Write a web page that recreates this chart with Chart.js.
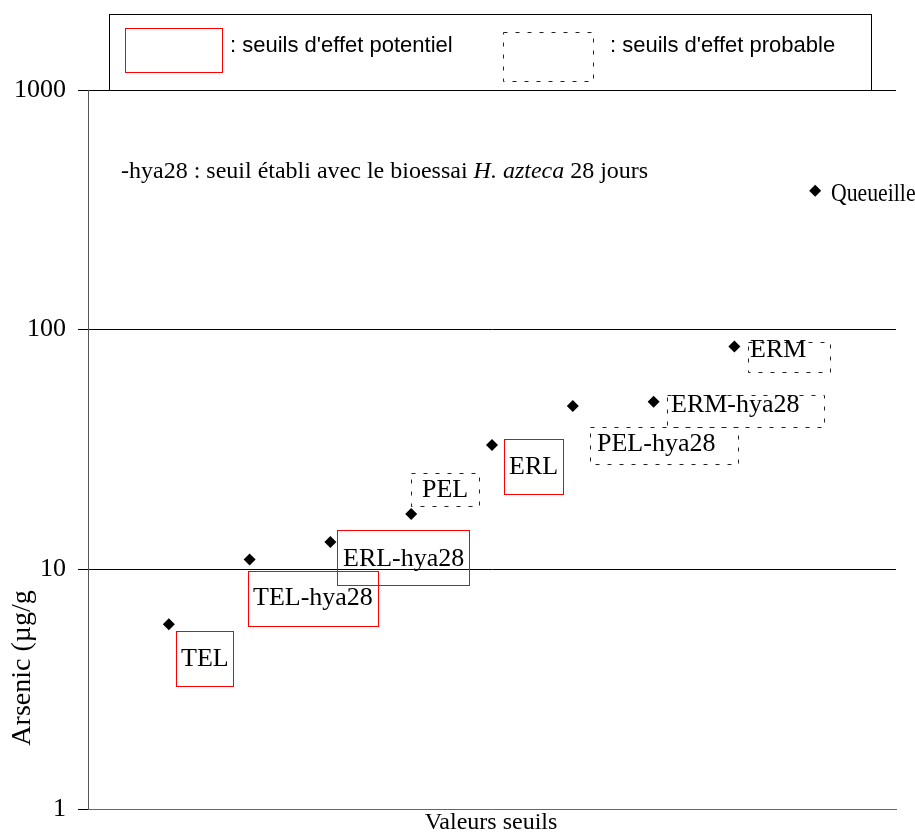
<!DOCTYPE html>
<html>
<head>
<meta charset="utf-8">
<script src="https://cdn.jsdelivr.net/npm/chart.js@4/dist/chart.umd.min.js"></script>
<style>
  body { margin: 0; background: #fff; }
  canvas { display: block; }
</style>
</head>
<body>
<canvas id="chart" width="915" height="832"></canvas>
<script>
// valeurs seuils pour l'arsenic (µg/g)
const seuils = ['TEL', 'TEL-hya28', 'ERL-hya28', 'PEL', 'ERL', 'PEL-hya28', 'ERM-hya28', 'ERM', 'Queueille'];
const arsenic = [5.9, 11, 13, 17, 33, 48, 50, 85, 380];
const typeSeuil = ['potentiel', 'potentiel', 'potentiel', 'probable', 'potentiel', 'probable', 'probable', 'probable', 'aucun'];
const yTicks = [1, 10, 100, 1000];

const legendeTextes = [': seuils d\'effet potentiel', ': seuils d\'effet probable'];
const noteHya = ['-hya28 : seuil établi avec le bioessai ', 'H. azteca', ' 28 jours'];

// placement des étiquettes autour de chaque point (px, relatif au point)
// [boxDx, boxDy, boxW, boxH, textDx, textDy]
const placement = [
  [7, 7, 57, 55, 12, 42],
  [-2, 12, 130, 55, 3, 46],
  [7, -12, 132, 55, 13, 24],
  [0, -41, 68, 33, 11, -17],
  [12, -6, 59, 55, 17, 29],
  [17, 21, 148, 37, 24, 45],
  [13, -7, 157, 32, 17, 10],
  [14, -5, 82, 30, 16, 10],
  [0, 0, 0, 0, 16, 10]
];

const serif = '"Liberation Serif", "Times New Roman", serif';
const sans = '"Liberation Sans", Arial, sans-serif';

const points = arsenic.map((v, i) => ({ x: i + 1, y: v }));

function boite(ctx, x, y, w, h, type) {
  ctx.save();
  ctx.lineWidth = 1;
  if (type === 'potentiel') {
    ctx.strokeStyle = '#ff0000';
    ctx.setLineDash([]);
  } else {
    ctx.strokeStyle = '#222';
    ctx.setLineDash([4, 8]);
  }
  ctx.strokeRect(Math.round(x) + 0.5, Math.round(y) + 0.5, w, h);
  ctx.restore();
}

const annotations = {
  id: 'annotations',
  afterDraw(chart) {
    const ctx = chart.ctx;
    const xs = chart.scales.x, ys = chart.scales.y;

    // étiquettes des points
    ctx.save();
    ctx.fillStyle = '#000';
    ctx.textBaseline = 'alphabetic';
    ctx.textAlign = 'left';
    points.forEach((p, i) => {
      const px = Math.round(xs.getPixelForValue(p.x));
      const py = Math.round(ys.getPixelForValue(p.y));
      const pl = placement[i];
      if (typeSeuil[i] !== 'aucun') {
        boite(ctx, px + pl[0], py + pl[1], pl[2], pl[3], typeSeuil[i]);
        ctx.font = '26px ' + serif;
        ctx.fillText(seuils[i], px + pl[4], py + pl[5]);
      } else {
        // Queueille : police un peu plus étroite
        ctx.save();
        ctx.translate(px + pl[4], py + pl[5]);
        ctx.scale(0.87, 1);
        ctx.font = '25px ' + serif;
        ctx.fillText(seuils[i], 0, 0);
        ctx.restore();
      }
    });

    // note -hya28
    let x = 121;
    const y = 178;
    ctx.font = '24px ' + serif;
    ctx.fillText(noteHya[0], x, y);
    x += ctx.measureText(noteHya[0]).width;
    ctx.font = 'italic 24px ' + serif;
    ctx.fillText(noteHya[1], x, y);
    x += ctx.measureText(noteHya[1]).width;
    ctx.font = '24px ' + serif;
    ctx.fillText(noteHya[2], x, y);

    // légende
    ctx.fillStyle = '#fff';
    ctx.fillRect(110, 15, 761, 75);
    ctx.strokeStyle = '#000';
    ctx.lineWidth = 1;
    ctx.strokeRect(109.5, 14.5, 762, 76);
    boite(ctx, 125, 28, 97, 44, 'potentiel');
    boite(ctx, 503, 32, 90, 49, 'probable');
    ctx.fillStyle = '#000';
    ctx.font = '22px ' + sans;
    ctx.fillText(legendeTextes[0], 230, 52);
    ctx.fillText(legendeTextes[1], 610, 52);

    // titres des axes
    ctx.font = '24px ' + serif;
    ctx.textAlign = 'center';
    ctx.fillText('Valeurs seuils', 491, 829);
    ctx.translate(30, 668);
    ctx.rotate(-Math.PI / 2);
    ctx.font = '28px ' + serif;
    ctx.fillText('Arsenic (µg/g', 0, 0);
    ctx.restore();
  }
};

new Chart(document.getElementById('chart'), {
  type: 'scatter',
  data: {
    datasets: [{
      label: 'Arsenic',
      data: points,
      pointStyle: 'rectRot',
      pointRadius: 6,
      backgroundColor: '#000',
      borderColor: '#000',
      borderWidth: 0
    }]
  },
  options: {
    responsive: false,
    animation: false,
    events: [],
    layout: { padding: { top: 90, right: 19, bottom: 23, left: 0 } },
    plugins: {
      legend: { display: false },
      tooltip: { enabled: false }
    },
    scales: {
      x: {
        type: 'linear',
        min: 0,
        max: 10,
        display: true,
        ticks: { display: false },
        grid: { display: false, drawTicks: false },
        border: { display: true, color: '#666', width: 1 },
        afterFit(scale) {
          scale.height = 0;
          scale.paddingLeft = 0;
          scale.paddingRight = 0;
        }
      },
      y: {
        type: 'logarithmic',
        min: 1,
        max: 1000,
        afterBuildTicks(scale) {
          scale.ticks = yTicks.map(v => ({ value: v }));
        },
        afterFit(scale) {
          scale.width = 88;
          scale.paddingTop = 0;
          scale.paddingBottom = 0;
        },
        ticks: {
          color: '#000',
          padding: 12,
          font: { family: serif, size: 26 },
          callback: v => String(v)
        },
        grid: {
          color: ctx => ctx.tick && ctx.tick.value === 1 ? 'rgba(0,0,0,0)' : '#000',
          tickColor: '#000',
          tickLength: 10,
          lineWidth: 1
        },
        border: { display: true, color: '#555', width: 1 }
      }
    }
  },
  plugins: [annotations]
});
</script>
</body>
</html>
